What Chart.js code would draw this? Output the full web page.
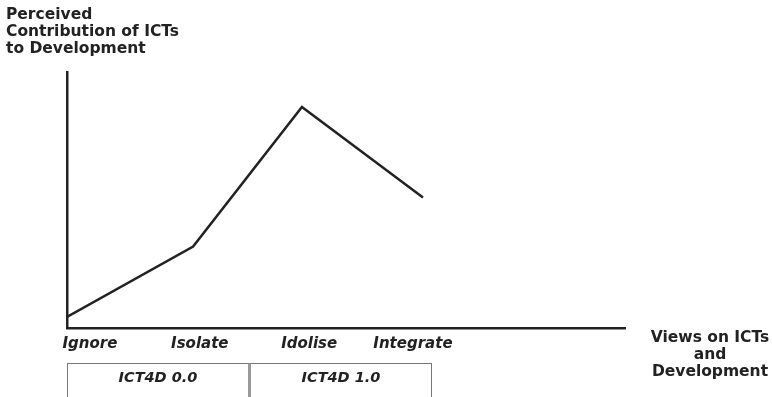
<!DOCTYPE html>
<html lang="en">
<head>
    <meta charset="UTF-8">
    <title>Views on ICTs and Development</title>
    <script src="https://cdn.jsdelivr.net/npm/chart.js@4.4.0/dist/chart.umd.min.js"></script>
    <style>
        body {
            margin: 0;
            padding: 0;
            background: #fff;
            font-family: "DejaVu Sans", Verdana, sans-serif;
            color: #222;
        }
        #wrap {
            position: relative;
            width: 772px;
            height: 397px;
            overflow: hidden;
        }
        #chart {
            position: absolute;
            left: 0;
            top: 0;
        }
        .lbl {
            position: absolute;
            font-weight: bold;
            font-size: 15.5px;
            line-height: 17px;
        }
        #yTitle {
            left: 6px;
            top: 6px;
        }
        #xTitle {
            left: 645px;
            top: 329px;
            width: 130px;
            text-align: center;
        }
        .era {
            position: absolute;
            top: 363px;
            height: 50px;
            border: 1px solid #777;
            border-bottom: none;
            box-sizing: border-box;
            text-align: center;
            font-weight: bold;
            font-style: italic;
            font-size: 14.5px;
            line-height: 27px;
        }
        #era0 { left: 67px; width: 183px; border-right: 2px solid #999; }
        #era1 { left: 250px; width: 182px; border-left: 1px solid #999; }
    </style>
</head>
<body>
    <div id="wrap">
        <canvas id="chart" width="772" height="397"></canvas>
        <div class="lbl" id="yTitle">Perceived<br>Contribution of ICTs<br>to Development</div>
        <div class="lbl" id="xTitle">Views on ICTs<br>and<br>Development</div>
        <div class="era" id="era0">ICT4D 0.0</div>
        <div class="era" id="era1">ICT4D 1.0</div>
    </div>
    <script>
        // stage names and where their labels sit along the x axis
        const stages = ['Ignore', 'Isolate', 'Idolise', 'Integrate'];
        const stagePos = [4.1, 23.8, 43.4, 62.0];

        // the curve (x 0-100, y 0-100)
        const curveX = [0, 22.6, 42.1, 63.8];
        const curveY = [4.3, 31.8, 86.3, 51.0];

        const points = curveX.map((x, i) => ({ x: x, y: curveY[i] }));

        const ctx = document.getElementById('chart').getContext('2d');
        new Chart(ctx, {
            type: 'line',
            data: {
                datasets: [{
                    data: points,
                    borderColor: '#222',
                    borderWidth: 2.5,
                    pointRadius: 0,
                    tension: 0,
                    fill: false
                }]
            },
            options: {
                responsive: false,
                animation: false,
                layout: {
                    padding: { left: 37, top: 72, right: 147, bottom: 37 }
                },
                plugins: {
                    legend: { display: false },
                    tooltip: { enabled: false }
                },
                scales: {
                    x: {
                        type: 'linear',
                        min: 0,
                        max: 100,
                        grid: { display: false, drawTicks: false },
                        border: { display: true, color: '#222', width: 2.5 },
                        afterBuildTicks: s => {
                            s.ticks = stagePos.map(v => ({ value: v }));
                        },
                        ticks: {
                            autoSkip: false,
                            maxRotation: 0,
                            padding: 7,
                            color: '#222',
                            font: { family: '"DejaVu Sans"', size: 15, weight: 'bold', style: 'italic' },
                            callback: (v, i) => stages[i]
                        }
                    },
                    y: {
                        min: 0,
                        max: 100,
                        grid: { display: false, drawTicks: false },
                        border: { display: true, color: '#222', width: 2.5 },
                        ticks: { display: false },
                        afterFit: s => { s.width = 30; }
                    }
                }
            }
        });
    </script>
</body>
</html>
